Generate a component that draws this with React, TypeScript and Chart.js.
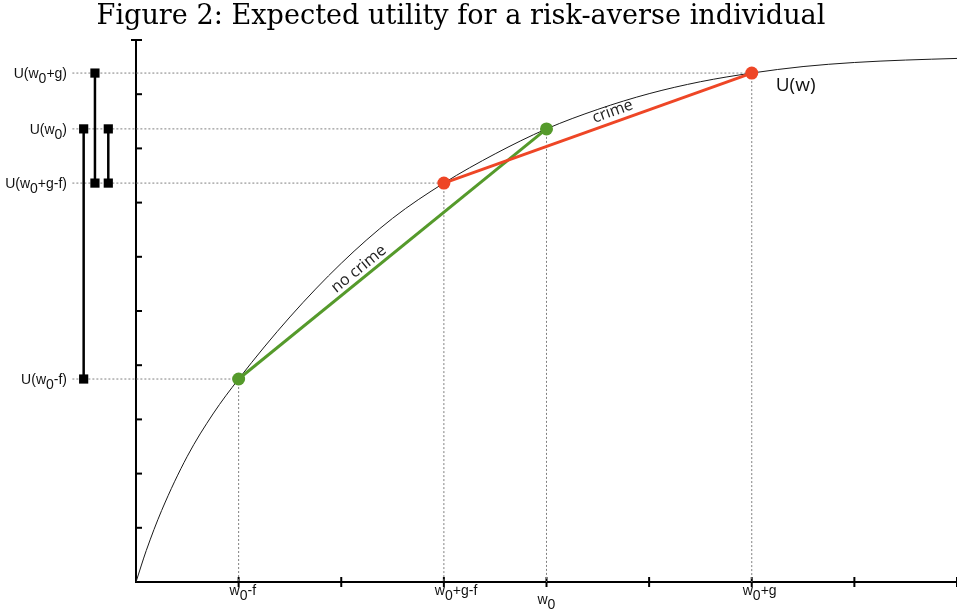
import { useEffect, useRef } from 'react';
import { Chart, registerables } from 'chart.js';

Chart.register(...registerables);

const TITLE = 'Figure 2: Expected utility for a risk-averse individual';

// utility curve U(w)
const curveW = [0, 0.1, 0.25, 0.5, 0.75, 1, 1.5, 2, 2.5, 3, 3.5, 4, 4.5, 5, 5.5, 6, 6.5, 7, 7.5, 8];
const curveU = [0, 0.58, 1.32, 2.32, 3.1, 3.745, 4.89, 5.88, 6.71, 7.36, 7.9, 8.36, 8.72, 9.01, 9.23, 9.39, 9.51, 9.585, 9.63, 9.66];

// key wealth levels: w0-f, w0+g-f, w0, w0+g
const keyW = [1, 3, 4, 6];
const keyU = [3.745, 7.36, 8.36, 9.39];
const wLabels = ['w_0-f', 'w_0+g-f', 'w_0', 'w_0+g'];
const uLabels = ['U(w_0-f)', 'U(w_0+g-f)', 'U(w_0)', 'U(w_0+g)'];

// lotteries
const noCrimeW = [1, 4];
const noCrimeU = [3.745, 8.36];
const crimeW = [3, 6];
const crimeU = [7.36, 9.39];

// brackets on the left of the utility axis
const bracketW = [-0.51, -0.4, -0.27];
const bracketLow = [3.745, 7.36, 7.36];
const bracketHigh = [8.36, 9.39, 8.36];

const xTicks = [0, 1, 2, 3, 4, 5, 6, 7, 8];
const yTicks = [1, 2, 3, 4, 5, 6, 7, 8, 9, 10];
const GUIDE_START = -0.62;

const GREEN = '#559a2b';
const RED = '#ee4626';

function drawRich(ctx: CanvasRenderingContext2D, text: string, x: number, y: number, align: string, size: number, drop: number) {
  ctx.font = `${size}px "Liberation Sans", Arial, sans-serif`;
  const parts = text.split('_0');
  const segs: { t: string; sub: boolean }[] = [];
  parts.forEach((p, i) => {
    if (i > 0) segs.push({ t: '0', sub: true });
    if (p) segs.push({ t: p, sub: false });
  });
  const widths = segs.map((s) => ctx.measureText(s.t).width);
  const total = widths.reduce((a, b) => a + b, 0);
  let cx = align === 'right' ? x - total : align === 'center' ? x - total / 2 : x;
  ctx.textAlign = 'left';
  ctx.textBaseline = 'alphabetic';
  segs.forEach((s, i) => {
    ctx.fillText(s.t, cx, s.sub ? y + drop : y);
    cx += widths[i];
  });
}

const decorPlugin = {
  id: 'decor',
  beforeDatasetsDraw(chart: any) {
    const ctx: CanvasRenderingContext2D = chart.ctx;
    const xs = chart.scales.x;
    const ys = chart.scales.y;
    const x0 = xs.getPixelForValue(0);
    const y0 = ys.getPixelForValue(0);
    ctx.save();
    ctx.strokeStyle = '#000';
    ctx.lineWidth = 2;
    ctx.lineCap = 'butt';
    const line = (a: number, b: number, c: number, d: number) => {
      ctx.beginPath();
      ctx.moveTo(a, b);
      ctx.lineTo(c, d);
      ctx.stroke();
    };
    line(x0, y0, xs.getPixelForValue(xTicks[xTicks.length - 1]), y0);
    line(x0, y0 + 1, x0, ys.getPixelForValue(yTicks[yTicks.length - 1]));
    xTicks.forEach((v) => {
      const px = xs.getPixelForValue(v);
      if (v > 0) line(px, y0 - 5, px, y0 + 5);
    });
    yTicks.forEach((v, i) => {
      const py = ys.getPixelForValue(v);
      const top = i === yTicks.length - 1;
      line(top ? x0 - 5 : x0, py, x0 + 6, py);
    });
    ctx.restore();
  },
  afterDatasetsDraw(chart: any) {
    const ctx: CanvasRenderingContext2D = chart.ctx;
    const xs = chart.scales.x;
    const ys = chart.scales.y;
    const y0 = ys.getPixelForValue(0);
    ctx.save();
    // title, sized to the width it has in the figure
    ctx.fillStyle = '#000';
    ctx.font = '24px "DejaVu Serif", serif';
    const w24 = ctx.measureText(TITLE).width;
    const size = Math.max(18, Math.min(28, (24 * 729) / w24));
    ctx.font = `${size.toFixed(2)}px "DejaVu Serif", serif`;
    ctx.textAlign = 'center';
    ctx.textBaseline = 'alphabetic';
    ctx.fillText(TITLE, 461, 24);

    // utility labels
    ctx.fillStyle = '#111';
    uLabels.forEach((lab, i) => {
      drawRich(ctx, lab, 67, ys.getPixelForValue(keyU[i]) + 5, 'right', 14, 5);
    });
    // wealth labels
    wLabels.forEach((lab, i) => {
      const px = xs.getPixelForValue(keyW[i]);
      const lower = lab === 'w_0';
      drawRich(ctx, lab, px - 9, y0 + (lower ? 22 : 13), 'left', 14, 5);
    });

    // labels along the lottery lines
    const along = (text: string, w: number[], u: number[], t: number, off: number) => {
      const ax = xs.getPixelForValue(w[0]);
      const ay = ys.getPixelForValue(u[0]);
      const bx = xs.getPixelForValue(w[1]);
      const by = ys.getPixelForValue(u[1]);
      const ang = Math.atan2(by - ay, bx - ax);
      ctx.save();
      ctx.translate(ax + (bx - ax) * t, ay + (by - ay) * t);
      ctx.rotate(ang);
      ctx.font = '16px "Open Sans", "DejaVu Sans", sans-serif';
      ctx.fillStyle = '#222';
      ctx.textAlign = 'center';
      ctx.textBaseline = 'alphabetic';
      ctx.fillText(text, 0, -off);
      ctx.restore();
    };
    along('no crime', noCrimeW, noCrimeU, 0.41, 5);
    along('crime', crimeW, crimeU, 0.56, 6);

    // curve label
    ctx.font = '19px "Open Sans", "DejaVu Sans", sans-serif';
    ctx.fillStyle = '#111';
    ctx.textAlign = 'left';
    ctx.fillText('U(w)', xs.getPixelForValue(keyW[3]) + 24, ys.getPixelForValue(keyU[3]) + 18);
    ctx.restore();
  },
};

export default function App() {
  const ref = useRef<HTMLCanvasElement | null>(null);

  useEffect(() => {
    if (!ref.current) return;
    const guides: any[] = [];
    keyW.forEach((w, i) => {
      guides.push({
        data: [{ x: GUIDE_START, y: keyU[i] }, { x: w, y: keyU[i] }],
        borderColor: '#808080', borderWidth: 1, borderDash: [2, 2], pointRadius: 0, order: 10,
      });
      guides.push({
        data: [{ x: w, y: keyU[i] }, { x: w, y: 0 }],
        borderColor: '#808080', borderWidth: 1, borderDash: [2, 2], pointRadius: 0, order: 10,
      });
    });
    const brackets = bracketW.map((w, i) => ({
      data: [{ x: w, y: bracketLow[i] }, { x: w, y: bracketHigh[i] }],
      borderColor: '#000', borderWidth: 2.5, pointStyle: 'rect', pointRadius: 6.5,
      pointBackgroundColor: '#000', pointBorderColor: '#000', pointBorderWidth: 0, order: 2,
    }));
    const chart = new Chart(ref.current, {
      type: 'line',
      data: {
        datasets: [
          {
            data: curveW.map((w, i) => ({ x: w, y: curveU[i] })),
            borderColor: '#1a1a1a', borderWidth: 1, pointRadius: 0,
            cubicInterpolationMode: 'monotone', order: 5,
          },
          {
            data: noCrimeW.map((w, i) => ({ x: w, y: noCrimeU[i] })),
            borderColor: GREEN, borderWidth: 3, pointRadius: 6.5,
            pointBackgroundColor: GREEN, pointBorderColor: GREEN, pointBorderWidth: 0, order: 1,
          },
          {
            data: crimeW.map((w, i) => ({ x: w, y: crimeU[i] })),
            borderColor: RED, borderWidth: 3, pointRadius: 6.5,
            pointBackgroundColor: RED, pointBorderColor: RED, pointBorderWidth: 0, order: 0,
          },
          ...brackets,
          ...guides,
        ] as any,
      },
      options: {
        animation: false,
        responsive: false,
        events: [],
        layout: { padding: 0, autoPadding: false },
        scales: {
          x: { type: 'linear', min: -1.3252, max: 8, display: false },
          y: { type: 'linear', min: -0.572, max: 10.738, display: false },
        },
        plugins: { legend: { display: false }, tooltip: { enabled: false }, title: { display: false } },
        elements: { line: { fill: false } },
        clip: false as any,
      } as any,
      plugins: [decorPlugin],
    });
    return () => chart.destroy();
  }, []);

  return (
    <div style={{ position: 'fixed', left: 0, top: 0, width: 957, height: 613, background: '#fff' }}>
      <canvas ref={ref} width={957} height={613} />
    </div>
  );
}
